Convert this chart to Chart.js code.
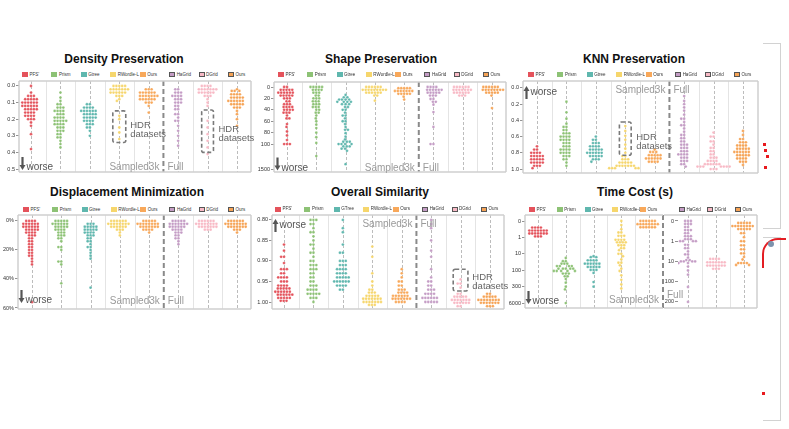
<!DOCTYPE html>
<html><head><meta charset="utf-8">
<script src="https://cdn.jsdelivr.net/npm/chart.js@4.4.0/dist/chart.umd.min.js"></script>
<style>
html,body{margin:0;padding:0;background:#fff;width:789px;height:429px;overflow:hidden;font-family:"Liberation Sans",Arial,sans-serif;position:relative}
canvas{position:absolute}
.title{position:absolute;font-weight:bold;font-size:12px;color:#111;white-space:nowrap;transform:translateX(-50%);line-height:14px}
.lgb{position:absolute;width:6px;height:5px;box-sizing:border-box}
.lgt{position:absolute;font-size:4.5px;line-height:6px;color:#333;white-space:nowrap}
.deco{position:absolute;box-sizing:border-box}
</style></head><body>
<script>
// ---------- categories ----------
const groupLabels  = ["PFS'","Prism","Gtree","RWordle-L","Ours","HaGrid","DGrid","Ours"];
const groupLabels5 = ["PFS'","Prism","GTree","RWordle-L","Ours","HaGrid","DGrid","Ours"];
const groupColors  = ['#e4525b','#8dc275','#5fb7ae','#f6d66c','#f8a85a','#c49cc5','#f8b9c5','#f6a355'];

// ---------- Density Preservation (value, count) ----------
const densityTicks = [0,0.1,0.2,0.3,0.4,0.5];
const densityTickLabels = ['0.0','0.1','0.2','0.3','0.4','0.5'];
const densityData = [
 [[0,1],[0.04,1],[0.06,3],[0.08,5],[0.10,6],[0.12,6],[0.14,5],[0.16,4],[0.18,4],[0.20,3],[0.22,1],[0.24,1],[0.29,1],[0.38,1]],
 [[0.04,1],[0.07,1],[0.09,1],[0.11,2],[0.13,3],[0.15,4],[0.17,3],[0.19,4],[0.21,5],[0.23,4],[0.25,3],[0.27,3],[0.29,2],[0.31,2],[0.33,1],[0.35,1],[0.37,1]],
 [[0.11,2],[0.13,4],[0.15,6],[0.17,5],[0.19,5],[0.21,4],[0.23,3],[0.25,2],[0.27,1],[0.30,1]],
 [[0,5],[0.02,7],[0.04,6],[0.06,3],[0.08,1],[0.09,1],[0.18,1],[0.20,1],[0.25,1],[0.28,1],[0.32,1]],
 [[0.02,3],[0.04,6],[0.06,7],[0.08,6],[0.10,3],[0.12,1],[0.16,1]],
 [[0.02,2],[0.04,3],[0.06,4],[0.08,3],[0.10,3],[0.12,2],[0.14,2],[0.17,2],[0.19,1],[0.21,2],[0.24,1],[0.27,1],[0.30,1],[0.33,1],[0.36,1]],
 [[0,4],[0.02,7],[0.04,6],[0.06,3],[0.08,1],[0.10,1],[0.12,1],[0.21,1],[0.25,1],[0.29,1],[0.33,1],[0.37,1],[0.41,1]],
 [[0.02,1],[0.03,3],[0.05,4],[0.07,5],[0.09,6],[0.11,5],[0.13,3],[0.15,1],[0.17,1],[0.20,1],[0.24,1]]
];

// ---------- Shape Preservation ----------
const shapeTicks = [0,20,40,60,80,100,1500];
const shapeTickLabels = ['0','20','40','60','80','100','1500'];
const shapeData = [
 [[0,2],[5,5],[10,6],[15,5],[20,3],[25,2],[30,3],[35,4],[40,4],[45,3],[50,1],[55,2],[65,1],[70,1],[78,1],[85,1],[93,1],[100,3]],
 [[0,5],[5,4],[10,3],[15,2],[20,3],[25,3],[30,3],[35,3],[40,2],[45,2],[50,1],[55,1],[60,1],[66,1],[72,1],[80,1],[88,1],[98,1],[770,1]],
 [[14,1],[18,2],[22,4],[26,4],[30,3],[35,2],[40,2],[45,1],[50,2],[55,1],[60,2],[65,1],[70,1],[75,2],[81,1],[87,1],[92,1],[96,3],[100,4],[230,3],[360,2],[480,1],[1220,1]],
 [[0,6],[5,9],[10,6],[15,2],[24,1]],
 [[2,5],[7,7],[12,5],[17,1],[22,1]],
 [[0,4],[5,6],[10,5],[15,3],[21,2],[26,2],[31,1],[44,1],[70,1],[100,2]],
 [[0,6],[5,7],[10,6],[15,3]],
 [[0,6],[5,8],[10,5],[15,1],[37,1]]
];

// ---------- KNN Preservation ----------
const knnTicks = [0,0.2,0.4,0.6,0.8,1.0];
const knnTickLabels = ['0.0','0.2','0.4','0.6','0.8','1.0'];
const knnData = [
 [[0.72,1],[0.76,2],[0.80,4],[0.84,5],[0.88,5],[0.92,5],[0.96,3],[0.99,1]],
 [[0.17,1],[0.30,1],[0.38,1],[0.44,1],[0.48,2],[0.52,2],[0.56,3],[0.60,4],[0.64,4],[0.68,3],[0.72,3],[0.76,4],[0.80,4],[0.84,3],[0.88,2],[0.92,1],[0.96,1]],
 [[0.60,1],[0.64,2],[0.68,3],[0.72,4],[0.76,5],[0.80,6],[0.84,5],[0.88,3],[0.91,1]],
 [[0.47,1],[0.53,1],[0.59,1],[0.64,1],[0.70,1],[0.75,1],[0.80,1],[0.84,2],[0.88,3],[0.92,5],[0.96,7],[0.99,5]],
 [[0.76,1],[0.79,3],[0.83,5],[0.87,6],[0.91,4]],
 [[0.10,1],[0.16,1],[0.20,1],[0.24,1],[0.28,1],[0.33,1],[0.38,2],[0.42,1],[0.46,2],[0.50,1],[0.54,1],[0.58,2],[0.62,2],[0.66,2],[0.70,3],[0.74,3],[0.78,3],[0.82,4],[0.86,3],[0.90,3],[0.94,2],[0.97,1]],
 [[0.55,1],[0.60,2],[0.66,2],[0.70,1],[0.74,2],[0.78,2],[0.82,2],[0.86,3],[0.90,4],[0.94,6],[0.97,7],[1.00,3]],
 [[0.53,1],[0.58,1],[0.63,2],[0.67,3],[0.71,4],[0.75,5],[0.79,6],[0.83,5],[0.87,4],[0.91,3],[0.95,1]]
];

// ---------- Displacement Minimization (%) ----------
const dispTicks = [0,20,40,60];
const dispTickLabels = ['0%','20%','40%','60%'];
const dispData = [
 [[0,4],[2,6],[4,6],[6,5],[8,4],[10,3],[12,2],[14,2],[16,2],[18,2],[20,2],[22,2],[24,2],[26,1],[28,1],[30,1],[56,1]],
 [[0,5],[2,6],[4,5],[6,4],[8,3],[10,3],[12,2],[14,1],[18,2],[20,1],[28,2],[30,1],[43,1]],
 [[2,3],[4,5],[6,5],[8,4],[10,3],[12,2],[14,2],[16,1],[18,2],[20,1],[22,1],[24,1],[26,1],[46,1]],
 [[0,6],[2,8],[4,6],[6,3],[8,1],[10,1]],
 [[0,5],[2,8],[4,7],[6,4],[8,1]],
 [[0,5],[2,7],[4,6],[6,4],[8,3],[10,2],[12,2],[14,1],[16,1]],
 [[0,6],[2,8],[4,7],[6,3]],
 [[0,6],[2,8],[4,7],[6,3],[8,1]]
];

// ---------- Overall Similarity ----------
const simTicks = [0.80,0.85,0.90,0.95,1.00];
const simTickLabels = ['0.80','0.85','0.90','0.95','1.00'];
const simData = [
 [[0.86,1],[0.875,1],[0.89,2],[0.905,1],[0.92,3],[0.93,2],[0.94,4],[0.95,3],[0.96,4],[0.967,5],[0.975,6],[0.982,6],[0.99,5],[0.997,3]],
 [[0.80,3],[0.81,2],[0.82,1],[0.83,2],[0.84,1],[0.85,1],[0.86,2],[0.87,1],[0.88,2],[0.89,1],[0.90,2],[0.91,3],[0.92,3],[0.93,2],[0.94,2],[0.95,2],[0.96,3],[0.97,4],[0.98,5],[0.99,3],[1.00,1]],
 [[0.80,1],[0.82,1],[0.83,1],[0.86,1],[0.88,2],[0.90,3],[0.91,3],[0.92,4],[0.93,4],[0.94,5],[0.95,6],[0.96,4],[0.97,2]],
 [[0.865,1],[0.89,1],[0.93,1],[0.95,1],[0.96,1],[0.97,2],[0.977,3],[0.985,5],[0.992,7],[1.0,7],[1.007,3]],
 [[0.92,1],[0.93,1],[0.94,1],[0.95,2],[0.96,2],[0.97,3],[0.977,4],[0.985,6],[0.992,7],[1.0,4]],
 [[0.80,1],[0.81,1],[0.82,1],[0.85,1],[0.875,1],[0.89,1],[0.92,1],[0.94,1],[0.95,2],[0.96,2],[0.97,3],[0.98,4],[0.99,6],[1.0,5]],
 [[0.945,1],[0.955,2],[0.965,1],[0.98,2],[0.987,5],[0.995,7],[1.002,6],[1.01,2]],
 [[0.98,2],[0.987,5],[0.995,8],[1.002,7],[1.01,3]]
];

// ---------- Time Cost (s) ----------
const timeTicksL = [0,1,10,100,300,6000];
const timeTickLabelsL = ['0','1','10','100','300','6000'];
const timeTicksR = [0,1,10,100,200];
const timeTickLabelsR = ['0','1','10','100','200'];
const timeDataL = [
 [[0.4,4],[0.58,7],[0.76,7],[0.94,3]],
 [[18,1],[28,2],[40,3],[56,4],[80,5],[105,5],[125,3],[150,2],[180,1],[230,1],[300,1],[500,1],[6000,1]],
 [[14,1],[16,2],[25,4],[40,6],[63,5],[95,3],[120,1],[220,1],[300,1]],
 [[0,1],[0.25,1],[0.5,1],[0.7,2],[0.9,3],[1.4,4],[2,4],[3,3],[4.5,2],[6,1],[10,2],[14,1],[22,1],[35,2],[50,1],[80,1],[105,1],[140,1],[190,1],[260,1],[420,1]],
 [[0,6],[0.19,8],[0.38,6]]
];
const timeDataR = [
 [[0,3],[0.15,3],[0.3,2],[0.45,3],[0.6,2],[0.75,3],[0.9,3],[1.0,4],[1.5,2],[2.2,2],[3.2,1],[4.5,2],[6.5,1],[8.5,2],[10,4],[12,2],[18,1],[28,1],[45,1],[120,1],[200,1]],
 [[7.5,4],[11,7],[16,7],[23,3]],
 [[0.1,5],[0.25,8],[0.4,5],[0.6,2],[0.8,1],[1.0,2],[1.6,2],[2.5,2],[4,2],[6,1],[8,1],[12,4],[15,2]]
];

// ---------- axis transforms (scale mapping only) ----------
const tfId = v => v;
const tfShape = v => v <= 100 ? v : 100 + (v - 100) * (44 / 1400);
const tfTimeL = v => v <= 1 ? v : v <= 10 ? 1 + Math.log10(v) : v <= 100 ? 2 + Math.log10(v / 10) : v <= 300 ? 3 + Math.log(v / 100) / Math.log(3) : 4 + Math.log(v / 300) / Math.log(20);
const tfTimeR = v => v <= 1 ? v : v <= 10 ? 1 + Math.log10(v) : v <= 100 ? 2 + Math.log10(v / 10) : 3 + Math.log2(v / 100);

function expand(list){ const out=[]; list.forEach(([v,c])=>{ for(let k=0;k<c;k++) out.push(v); }); return out; }
function swarm(ys, d){
  const placed=[], xs=[];
  ys.forEach(y=>{
    const near = placed.filter(p=>Math.abs(p.y-y)<d);
    const cands=[0];
    near.forEach(p=>{ const dx=Math.sqrt(Math.max(0,d*d-(p.y-y)**2)); cands.push(p.x+dx,p.x-dx); });
    cands.sort((a,b)=>Math.abs(a)-Math.abs(b)||a-b);
    let best=0;
    for(const c of cands){ if(near.every(p=>(p.x-c)**2+(p.y-y)**2>=d*d-0.01)){ best=c; break; } }
    placed.push({x:best,y}); xs.push(best);
  });
  return xs;
}

function arrow(ctx,x,yFrom,yTo){
  const dir=Math.sign(yTo-yFrom);
  ctx.setLineDash([]); ctx.strokeStyle='#555'; ctx.fillStyle='#555'; ctx.lineWidth=2.2;
  ctx.beginPath(); ctx.moveTo(x,yFrom); ctx.lineTo(x,yTo-dir*4); ctx.stroke();
  ctx.beginPath(); ctx.moveTo(x-3,yTo-dir*5); ctx.lineTo(x+3,yTo-dir*5); ctx.lineTo(x,yTo); ctx.closePath(); ctx.fill();
}

const decor = {
  id:'decor',
  beforeDatasetsDraw(chart){
    const o=chart.options.plugins.decor; const ctx=chart.ctx, a=chart.chartArea, x=chart.scales.x;
    ctx.save();
    ctx.lineWidth=1; ctx.strokeStyle='#e4e4e4'; ctx.setLineDash([]);
    for(let i=0;i<o.cols-1;i++){ const g=i+0.5; if(g===o.sep) continue;
      const px=Math.round(x.getPixelForValue(g))+0.5; ctx.beginPath(); ctx.moveTo(px,a.top); ctx.lineTo(px,a.bottom); ctx.stroke(); }
    ctx.strokeStyle='#bcbcbc'; ctx.setLineDash([3,2]);
    for(let i=0;i<o.cols;i++){ const px=Math.round(x.getPixelForValue(i))+0.5; ctx.beginPath(); ctx.moveTo(px,a.top); ctx.lineTo(px,a.bottom); ctx.stroke(); }
    if(o.sep!=null){ const px=x.getPixelForValue(o.sep); ctx.strokeStyle='#8a8a8a'; ctx.lineWidth=2; ctx.setLineDash([5,3]);
      ctx.beginPath(); ctx.moveTo(px,a.top); ctx.lineTo(px,a.bottom); ctx.stroke(); }
    ctx.restore();
  },
  afterDatasetsDraw(chart){
    const o=chart.options.plugins.decor; const ctx=chart.ctx, a=chart.chartArea, x=chart.scales.x, y=chart.scales.y;
    ctx.save();
    ctx.strokeStyle='#cfcfcf'; ctx.lineWidth=1.5; ctx.setLineDash([]);
    const L=a.left-(o.extendLeft||0);
    ctx.beginPath();
    if(o.border.includes('t')){ ctx.moveTo(L,a.top); ctx.lineTo(a.right,a.top); }
    if(o.border.includes('b')){ ctx.moveTo(L,a.bottom); ctx.lineTo(a.right,a.bottom); }
    if(o.border.includes('l')){ ctx.moveTo(a.left,a.top); ctx.lineTo(a.left,a.bottom); }
    if(o.border.includes('r')){ ctx.moveTo(a.right,a.top); ctx.lineTo(a.right,a.bottom); }
    ctx.stroke();
    if(o.worse){
      const w=o.worse, ax=a.left+3.5; let base;
      if(w.dir==='down'){ const tip=a.bottom-w.tip; arrow(ctx,ax,tip-13,tip); base=tip; }
      else { const tip=a.top+w.tip; arrow(ctx,ax,tip+13,tip); base=tip+9; }
      ctx.fillStyle='#555'; ctx.font='10px "Liberation Sans", Arial, sans-serif'; ctx.textAlign='left'; ctx.textBaseline='alphabetic';
      ctx.fillText('worse',ax+4,base);
    }
    if(o.sampled){
      const s=o.sampled, px=x.getPixelForValue(s.at);
      const base = s.pos==='top' ? a.top+s.base : a.bottom-s.base;
      ctx.fillStyle='#9a9a9a'; ctx.font='10px "Liberation Sans", Arial, sans-serif'; ctx.textBaseline='alphabetic';
      ctx.textAlign='right'; ctx.fillText('Sampled3k',px-4,base);
      ctx.textAlign='left'; ctx.fillText('Full',px+4,s.fullBase!=null ? a.bottom-s.fullBase : base);
    }
    (o.hdr||[]).forEach(h=>{
      const x0=x.getPixelForValue(h.x0), x1=x.getPixelForValue(h.x1), y0=y.getPixelForValue(h.y0), y1=y.getPixelForValue(h.y1);
      ctx.strokeStyle='#7a7a7a'; ctx.lineWidth=1.6; ctx.setLineDash([4,2.5]);
      ctx.beginPath(); if(ctx.roundRect) ctx.roundRect(x0,y0,x1-x0,y1-y0,2); else ctx.rect(x0,y0,x1-x0,y1-y0); ctx.stroke();
      ctx.setLineDash([]); ctx.fillStyle='#666'; ctx.font='9.5px "Liberation Sans", Arial, sans-serif'; ctx.textAlign='left'; ctx.textBaseline='middle';
      const tx=x.getPixelForValue(h.tx);
      ctx.fillText('HDR',tx,y.getPixelForValue(h.ty1)); ctx.fillText('datasets',tx,y.getPixelForValue(h.ty2));
    });
    ctx.restore();
  }
};

function addTitle(text,cx,top){ const d=document.createElement('div'); d.className='title'; d.textContent=text; d.style.left=cx+'px'; d.style.top=top+'px'; document.body.appendChild(d); }

function buildPanel(cfg){
  const [l,t,r,b]=cfg.box;
  const pxX=(r-l)/(cfg.xr[1]-cfg.xr[0]), pxY=(b-t)/(cfg.yr[1]-cfg.yr[0]);
  const datasets=cfg.data.map((grp,gi)=>{
    const vals=expand(grp).map(cfg.tf).sort((p,q)=>p-q);
    const xs=swarm(vals.map(v=>v*pxY),2.9);
    const ci=gi+cfg.gOff;
    return {label:cfg.labels[ci], data:vals.map((v,k)=>({x:gi+xs[k]/pxX, y:v})),
      backgroundColor:groupColors[ci], borderColor:'rgba(255,255,255,0.55)', borderWidth:0.4, pointRadius:1.4, pointHoverRadius:1.4};
  });
  cfg.data.forEach((g,gi)=>{
    const ci=gi+cfg.gOff; const cx=l+(gi-cfg.xr[0])*pxX;
    const sq=document.createElement('div'); sq.className='lgb'; sq.style.left=(cx-9)+'px'; sq.style.top=(cfg.legendY-2.5)+'px';
    sq.style.background=groupColors[ci]; if(ci>=5) sq.style.border='0.8px solid #555';
    const tx=document.createElement('div'); tx.className='lgt'; tx.textContent=cfg.labels[ci]; tx.style.left=(cx-1.5)+'px'; tx.style.top=(cfg.legendY-3)+'px';
    document.body.appendChild(sq); document.body.appendChild(tx);
  });
  const padR=cfg.padR||4, padV=6;
  const W=r-l+cfg.axisW+padR, H=b-t+2*padV;
  const cv=document.createElement('canvas');
  cv.width=W; cv.height=H;
  cv.style.left=(l-cfg.axisW)+'px'; cv.style.top=(t-padV)+'px'; cv.style.width=W+'px'; cv.style.height=H+'px';
  document.body.appendChild(cv);
  new Chart(cv,{type:'scatter', data:{datasets}, options:{
    responsive:false, animation:false, events:[],
    layout:{padding:{left:0,right:padR,top:padV,bottom:padV}},
    plugins:{legend:{display:false}, tooltip:{enabled:false}, decor:cfg.decor},
    scales:{
      x:{type:'linear', display:false, min:cfg.xr[0], max:cfg.xr[1]},
      y:{type:'linear', reverse:true, min:cfg.yr[0], max:cfg.yr[1],
        afterFit:s=>{ s.width=cfg.axisW; },
        afterBuildTicks:s=>{ s.ticks=cfg.tickVals.map(v=>({value:cfg.tf(v)})); },
        ticks:{callback:(val,idx)=>cfg.tickLabels[idx], font:{size:5.5,family:'"Liberation Sans", Arial, sans-serif'}, color:'#333', padding:1},
        grid:{drawOnChartArea:false, drawTicks:true, tickLength:3, color:'#777', lineWidth:0.8},
        border:{display:false}
      }
    }
  }, plugins:[decor]});
}

addTitle('Density Preservation',124,52);
addTitle('Shape Preservation',381,52);
addTitle('KNN Preservation',634,52);
addTitle('Displacement Minimization',127,185);
addTitle('Overall Similarity',380,185);
addTitle('Time Cost (s)',635,185);

const full8 = {cols:8, sep:4.5, border:'ltrb'};
buildPanel({box:[19,81,251,172], axisW:22, xr:[-0.408,7.476], yr:[-0.030,0.518], tf:tfId, tickVals:densityTicks, tickLabels:densityTickLabels, data:densityData, labels:groupLabels, gOff:0, legendY:74.5,
  decor:Object.assign({},full8,{worse:{dir:'down',tip:2}, sampled:{pos:'bottom',base:2,at:4.5},
    hdr:[{x0:2.78,x1:3.22,y0:0.15,y1:0.34,tx:3.37,ty1:0.235,ty2:0.29},{x0:5.8,x1:6.2,y0:0.145,y1:0.40,tx:6.37,ty1:0.26,ty2:0.313}]})});
buildPanel({box:[274,82,506,172], axisW:22, xr:[-0.444,7.478], yr:[-8.8,149], tf:tfShape, tickVals:shapeTicks, tickLabels:shapeTickLabels, data:shapeData, labels:groupLabels, gOff:0, legendY:74.5,
  decor:Object.assign({},full8,{worse:{dir:'down',tip:1.5}, sampled:{pos:'bottom',base:1.5,at:4.5}})});
buildPanel({box:[523,81,758,173], axisW:22, xr:[-0.476,7.51], yr:[-0.086,1.049], tf:tfId, tickVals:knnTicks, tickLabels:knnTickLabels, data:knnData, labels:groupLabels, gOff:0, legendY:74.5,
  decor:Object.assign({},full8,{worse:{dir:'up',tip:5}, sampled:{pos:'top',base:12,at:4.5},
    hdr:[{x0:2.8,x1:3.2,y0:0.42,y1:0.83,tx:3.37,ty1:0.605,ty2:0.716}]})});
buildPanel({box:[18,215,251,309], axisW:18, xr:[-0.478,7.478], yr:[-4.1,60.7], tf:tfId, tickVals:dispTicks, tickLabels:dispTickLabels, data:dispData, labels:groupLabels, gOff:0, legendY:209.5,
  decor:Object.assign({},full8,{worse:{dir:'down',tip:6}, sampled:{pos:'bottom',base:5,at:4.5}})});
buildPanel({box:[272,215,504,309], axisW:22, xr:[-0.408,7.476], yr:[0.788,1.017], tf:tfId, tickVals:simTicks, tickLabels:simTickLabels, data:simData, labels:groupLabels5, gOff:0, legendY:209,
  decor:Object.assign({},full8,{worse:{dir:'up',tip:4}, sampled:{pos:'top',base:12,at:4.5},
    hdr:[{x0:5.75,x1:6.25,y0:0.92,y1:0.973,tx:6.4,ty1:0.941,ty2:0.963}]})});
buildPanel({box:[525,215,663,308], axisW:22, padR:22, xr:[-0.468,4.5], yr:[-0.366,5.3], tf:tfTimeL, tickVals:timeTicksL, tickLabels:timeTickLabelsL, data:timeDataL, labels:groupLabels, gOff:0, legendY:209.5,
  decor:{cols:5, sep:4.5, border:'ltb', worse:{dir:'down',tip:4}, sampled:{pos:'bottom',base:5,fullBase:10,at:4.5}}});
buildPanel({box:[678,215,757,308], axisW:14, xr:[-0.357,2.464], yr:[-0.296,4.3], tf:tfTimeR, tickVals:timeTicksR, tickLabels:timeTickLabelsR, data:timeDataR, labels:groupLabels, gOff:5, legendY:209.5,
  decor:{cols:3, sep:null, border:'trb', extendLeft:15}});

// neighbouring figure fragments at right edge (decoration)
function deco(css){ const d=document.createElement('div'); d.className='deco'; Object.assign(d.style,css); document.body.appendChild(d); }
deco({left:'763px',top:'43px',width:'18px',height:'186px',border:'1.5px solid #d2d2d2',borderLeft:'none'});
deco({left:'763px',top:'237px',width:'18px',height:'184px',border:'1.5px solid #d2d2d2',borderLeft:'none'});
[[763,143],[764,149],[766,155],[764,166],[762,392]].forEach(([x,y])=>deco({left:x+'px',top:y+'px',width:'3px',height:'3px',background:'#e8191e'}));
deco({left:'762px',top:'238px',width:'24px',height:'30px',borderTop:'2px solid #e31d23',borderLeft:'2px solid #e31d23',borderTopLeftRadius:'16px'});
deco({left:'768px',top:'241px',width:'6px',height:'6px',borderRadius:'50%',background:'#7d93ad'});
</script>
</body></html>
